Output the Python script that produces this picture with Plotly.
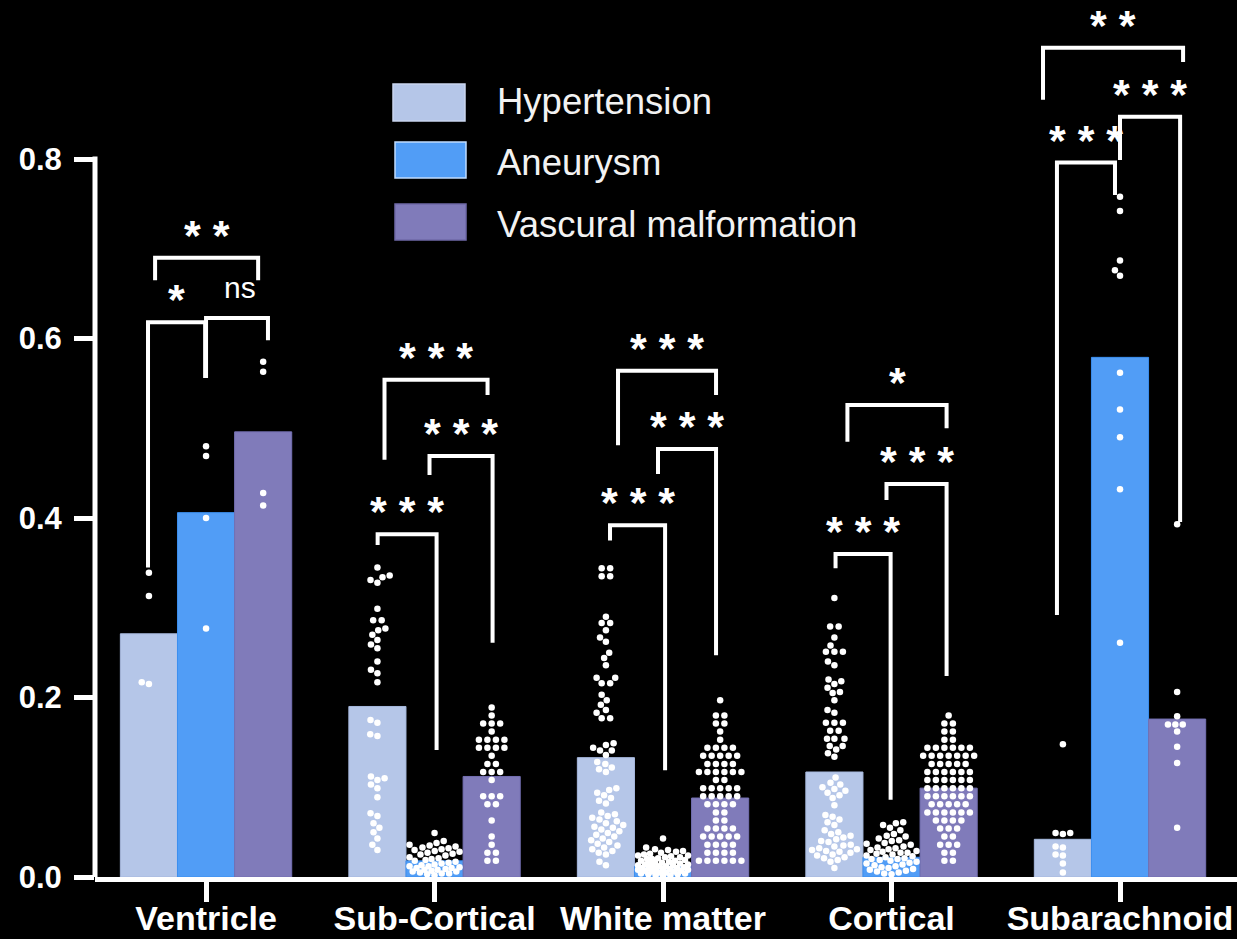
import math
import plotly.graph_objects as go

# ---------------- data ----------------
categories = ["Ventricle", "Sub-Cortical", "White matter", "Cortical", "Subarachnoid"]
groups = ["Hypertension", "Aneurysm", "Vascural malformation"]

bar_hypertension = [0.271, 0.190, 0.133, 0.117, 0.042]
bar_aneurysm = [0.406, 0.018, 0.012, 0.022, 0.579]
bar_vascular = [0.496, 0.112, 0.088, 0.099, 0.176]

y_tick_vals = [0.0, 0.2, 0.4, 0.6, 0.8]
y_tick_text = ["0.0", "0.2", "0.4", "0.6", "0.8"]

# individual points
ventricle_hyp = [0.215, 0.217, 0.313, 0.339]
ventricle_ane = [0.277, 0.400, 0.469, 0.480]
ventricle_vas = [0.414, 0.428, 0.563, 0.574]

subcortical_hyp = [0.345, 0.336, 0.334, 0.331, 0.328, 0.299, 0.286, 0.286,
                   0.277, 0.275, 0.270, 0.264, 0.259, 0.255, 0.240, 0.231,
                   0.227, 0.217, 0.175, 0.172, 0.159, 0.157, 0.112, 0.110,
                   0.108, 0.103, 0.099, 0.089, 0.071, 0.068, 0.060, 0.055,
                   0.050, 0.043, 0.036, 0.030]
subcortical_ane = [0.049, 0.040, 0.038, 0.036, 0.035, 0.034, 0.033, 0.032,
                   0.031, 0.030, 0.029, 0.028, 0.027, 0.026, 0.025, 0.024,
                   0.022, 0.021, 0.020, 0.019, 0.018, 0.017, 0.016, 0.015,
                   0.014, 0.013, 0.012, 0.012, 0.011, 0.010, 0.010, 0.009,
                   0.008, 0.008, 0.007, 0.006, 0.006, 0.005, 0.004, 0.004,
                   0.003, 0.002]
subcortical_vas = [0.189, 0.180, 0.171, 0.171, 0.171, 0.162, 0.153, 0.153,
                   0.153, 0.153, 0.144, 0.144, 0.144, 0.144, 0.135, 0.126,
                   0.126, 0.117, 0.117, 0.117, 0.108, 0.090, 0.090, 0.090,
                   0.081, 0.081, 0.063, 0.045, 0.036, 0.027, 0.027, 0.018,
                   0.018]

white_hyp = [0.344, 0.344, 0.335, 0.335, 0.290, 0.283, 0.283, 0.275, 0.267,
             0.262, 0.250, 0.244, 0.236, 0.222, 0.222, 0.216, 0.216, 0.203,
             0.197, 0.192, 0.186, 0.183, 0.177, 0.177, 0.149, 0.147, 0.144,
             0.141, 0.141, 0.136, 0.128, 0.126, 0.122, 0.120, 0.117, 0.099,
             0.097, 0.094, 0.091, 0.088, 0.085, 0.082, 0.072, 0.070, 0.068,
             0.066, 0.064, 0.062, 0.060, 0.058, 0.056, 0.055, 0.053, 0.051,
             0.049, 0.047, 0.045, 0.043, 0.041, 0.039, 0.037, 0.035, 0.033,
             0.031, 0.029, 0.027, 0.025, 0.017, 0.013]
white_ane = [0.043, 0.033, 0.031, 0.030, 0.029, 0.028, 0.027, 0.026, 0.025,
             0.024, 0.024, 0.023, 0.022, 0.022, 0.021, 0.020, 0.020, 0.019,
             0.018, 0.018, 0.017, 0.016, 0.016, 0.015, 0.015, 0.014, 0.014,
             0.013, 0.013, 0.012, 0.012, 0.011, 0.011, 0.010, 0.010, 0.010,
             0.009, 0.009, 0.008, 0.008, 0.008, 0.007, 0.007, 0.006, 0.006,
             0.005, 0.005, 0.004, 0.004, 0.003, 0.003, 0.002, 0.002, 0.001]
white_vas = [0.197, 0.180, 0.180, 0.171, 0.171, 0.162, 0.153, 0.144, 0.144,
             0.144, 0.144, 0.135, 0.135, 0.135, 0.135, 0.135, 0.126, 0.126,
             0.126, 0.126, 0.117, 0.117, 0.117, 0.117, 0.117, 0.117, 0.108,
             0.108, 0.099, 0.099, 0.099, 0.099, 0.099, 0.090, 0.090, 0.090,
             0.090, 0.090, 0.081, 0.081, 0.081, 0.081, 0.072, 0.072, 0.063,
             0.063, 0.054, 0.054, 0.054, 0.054, 0.045, 0.045, 0.045, 0.045,
             0.045, 0.036, 0.036, 0.036, 0.036, 0.027, 0.027, 0.027, 0.027,
             0.018, 0.018, 0.018, 0.018, 0.018, 0.018]

cortical_hyp = [0.311, 0.279, 0.279, 0.267, 0.258, 0.251, 0.251, 0.251, 0.240,
                0.236, 0.220, 0.218, 0.215, 0.211, 0.206, 0.205, 0.197, 0.186,
                0.183, 0.172, 0.172, 0.172, 0.163, 0.163, 0.154, 0.154, 0.154,
                0.146, 0.146, 0.142, 0.138, 0.134, 0.111, 0.105, 0.103, 0.100,
                0.098, 0.096, 0.094, 0.091, 0.088, 0.080, 0.069, 0.067, 0.064,
                0.061, 0.058, 0.052, 0.050, 0.048, 0.046, 0.044, 0.042, 0.040,
                0.039, 0.036, 0.035, 0.034, 0.032, 0.031, 0.030, 0.029, 0.028,
                0.027, 0.025, 0.024, 0.022, 0.021, 0.019, 0.017, 0.010]
cortical_ane = [0.061, 0.060, 0.058, 0.055, 0.052, 0.048, 0.046, 0.045, 0.043,
                0.041, 0.040, 0.038, 0.037, 0.036, 0.034, 0.033, 0.032, 0.031,
                0.030, 0.029, 0.028, 0.027, 0.027, 0.026, 0.025, 0.024, 0.023,
                0.022, 0.021, 0.020, 0.020, 0.019, 0.018, 0.017, 0.016, 0.015,
                0.014, 0.013, 0.012, 0.011, 0.010, 0.009, 0.008, 0.007, 0.006,
                0.005, 0.004, 0.003]
cortical_vas = [0.180, 0.171, 0.171, 0.162, 0.162, 0.153, 0.153, 0.144, 0.144,
                0.144, 0.144, 0.144, 0.144, 0.135, 0.135, 0.135, 0.135, 0.135,
                0.135, 0.135, 0.126, 0.126, 0.126, 0.126, 0.126, 0.117, 0.117,
                0.117, 0.117, 0.117, 0.117, 0.108, 0.108, 0.108, 0.108, 0.108,
                0.108, 0.099, 0.099, 0.099, 0.099, 0.099, 0.099, 0.090, 0.090,
                0.090, 0.090, 0.090, 0.090, 0.081, 0.081, 0.081, 0.081, 0.081,
                0.072, 0.072, 0.072, 0.072, 0.072, 0.072, 0.063, 0.063, 0.063,
                0.063, 0.054, 0.054, 0.054, 0.045, 0.045, 0.036, 0.036, 0.036,
                0.027, 0.027, 0.018, 0.018]

subarach_hyp = [0.148, 0.049, 0.049, 0.048, 0.034, 0.033, 0.025, 0.024, 0.015, 0.005]
subarach_ane = [0.758, 0.742, 0.687, 0.676, 0.670, 0.562, 0.521, 0.490, 0.432, 0.261]
subarach_vas = [0.393, 0.206, 0.179, 0.170, 0.170, 0.170, 0.162, 0.145, 0.127, 0.055]

points = [
    [ventricle_hyp, ventricle_ane, ventricle_vas],
    [subcortical_hyp, subcortical_ane, subcortical_vas],
    [white_hyp, white_ane, white_vas],
    [cortical_hyp, cortical_ane, cortical_vas],
    [subarach_hyp, subarach_ane, subarach_vas],
]

# significance brackets: (category, left x offset, right x offset,
#                         left leg end, top, right leg end, label)
brackets = [
    (0, -0.254, -0.004, 0.345, 0.618, 0.556, "*"),
    (0, 0.000, 0.271, 0.556, 0.623, 0.598, ""),
    (0, -0.223, 0.228, 0.665, 0.690, 0.665, "* *"),
    (1, -0.249, 0.009, 0.370, 0.382, 0.1415, "* * *"),
    (1, -0.022, 0.254, 0.448, 0.469, 0.261, "* * *"),
    (1, -0.219, 0.232, 0.465, 0.554, 0.537, "* * *"),
    (2, -0.232, 0.009, 0.375, 0.392, 0.119, "* * *"),
    (2, -0.022, 0.232, 0.449, 0.477, 0.247, "* * *"),
    (2, -0.197, 0.232, 0.481, 0.564, 0.537, "* * *"),
    (3, -0.245, -0.004, 0.344, 0.360, 0.086, "* * *"),
    (3, -0.022, 0.241, 0.420, 0.438, 0.224, "* * *"),
    (3, -0.193, 0.241, 0.485, 0.526, 0.500, "*"),
    (4, -0.276, -0.022, 0.292, 0.796, 0.760, "* * *"),
    (4, 0.000, 0.263, 0.799, 0.847, 0.3955, "* * *"),
    (4, -0.337, 0.276, 0.866, 0.924, 0.908, "* *"),
]
ns_label = (0, 0.149, 0.654, "ns")

# ---------------- layout geometry ----------------
FIG_W, FIG_H = 1237, 939
M_L, M_R, M_T, M_B = 95, 0, 0, 62
XR = (-0.486, 4.512)
YR = (0.0, 0.9772)
PLOT_W = FIG_W - M_L - M_R
PLOT_H = FIG_H - M_T - M_B
XS = PLOT_W / (XR[1] - XR[0])   # px per x unit
YS = PLOT_H / (YR[1] - YR[0])   # px per y unit

offsets = [-0.25, 0.0, 0.25]
bar_colors = ["#B5C6E8", "#519DF6", "#807BBA"]
bar_lines = ["#A7B9DE", "#3C8FF0", "#7470B2"]


def swarm(values, dmin=7.4, step=8.5, maxw=25.0):
    order = sorted(values)
    placed = []
    out = []

    def ok(x, y):
        for (px, py) in placed:
            if (px - x) ** 2 + (py - y) ** 2 < dmin * dmin - 1e-9:
                return False
        return True

    def single(y):
        cands = [0.0]
        for (px, py) in placed:
            dy = abs(py - y)
            if dy < dmin:
                dx = math.sqrt(dmin * dmin - dy * dy)
                cands.append(px + dx)
                cands.append(px - dx)
        cands.sort(key=lambda c: (abs(c), c))
        for c in cands:
            if abs(c) <= maxw + 1e-9 and ok(c, y):
                return c
        best, bestd = 0.0, -1.0
        for j in range(int(2 * maxw) + 1):
            c = -maxw + j
            md = min((px - c) ** 2 + (py - y) ** 2 for (px, py) in placed)
            if md > bestd:
                best, bestd = c, md
        return best

    i = 0
    while i < len(order):
        j = i
        while j < len(order) and abs(order[j] - order[i]) < 1e-9:
            j += 1
        n = j - i
        y = order[i] * YS
        xs = None
        if n > 1:
            row = [(k - (n - 1) / 2) * step for k in range(n)]
            if max(abs(r) for r in row) <= maxw + 1.5 and all(ok(r, y) for r in row):
                xs = row
                for r in row:
                    placed.append((r, y))
        if xs is None:
            xs = []
            for _ in range(n):
                c = single(y)
                placed.append((c, y))
                xs.append(c)
        out.extend(zip(xs, order[i:j]))
        i = j
    return out


fig = go.Figure()

for g, vals in enumerate([bar_hypertension, bar_aneurysm, bar_vascular]):
    fig.add_trace(go.Bar(
        x=list(range(len(categories))), y=vals, name=groups[g],
        marker=dict(color=bar_colors[g], line=dict(color=bar_lines[g], width=1)),
        showlegend=False, hoverinfo="skip"))

dx, dy = [], []
for ci in range(len(categories)):
    for g in range(3):
        for xo, v in swarm(points[ci][g]):
            dx.append(ci + offsets[g] + xo / XS)
            dy.append(v)
fig.add_trace(go.Scatter(x=dx, y=dy, mode="markers",
                         marker=dict(color="white", size=6.5, line=dict(width=0)),
                         showlegend=False, hoverinfo="skip"))

shapes = []
annotations = []
for (ci, x0, x1, yl, yt, yr, lab) in brackets:
    xa, xb = ci + x0, ci + x1
    shapes.append(dict(type="path", xref="x", yref="y",
                       path=f"M {xa} {yl} L {xa} {yt} L {xb} {yt} L {xb} {yr}",
                       line=dict(color="white", width=4)))
    if lab:
        annotations.append(dict(x=(xa + xb) / 2, y=yt + 27 / YS, xref="x", yref="y",
                                text=f"<b>{lab}</b>", showarrow=False,
                                yanchor="middle", yshift=-4,
                                font=dict(family="Liberation Sans", size=43, color="white")))
annotations.append(dict(x=ns_label[0] + ns_label[1], y=ns_label[2], xref="x", yref="y",
                        text=ns_label[3], showarrow=False, yanchor="middle", yshift=3,
                        font=dict(family="Liberation Sans", size=30, color="white")))

# y axis line only up to 0.8
shapes.append(dict(type="line", xref="paper", yref="y", x0=0, x1=0, y0=0, y1=0.8 + 2.5 / YS,
                   line=dict(color="white", width=5)))


def px_x(p):
    return (p - M_L) / PLOT_W


def px_y(p):
    return (FIG_H - M_B - p) / PLOT_H


legend_boxes = [(393, 84, 465, 121), (395, 142, 466, 178), (395, 204, 466, 240)]
legend_text_y = [102, 162, 224]
legend_edge = ["#C9D5EE", "#BFDCFF", "#6F6AA8"]
for g in range(3):
    x0, y0, x1, y1 = legend_boxes[g]
    shapes.append(dict(type="rect", xref="paper", yref="paper",
                       x0=px_x(x0), x1=px_x(x1), y0=px_y(y1), y1=px_y(y0),
                       fillcolor=bar_colors[g], line=dict(color=legend_edge[g], width=1.5)))
    annotations.append(dict(x=px_x(495), y=px_y(legend_text_y[g]), xref="paper", yref="paper",
                            text=groups[g], showarrow=False, xanchor="left", yanchor="middle",
                            font=dict(family="Liberation Sans", size=36.5, color="#F2F2F2")))

fig.update_layout(
    width=FIG_W, height=FIG_H,
    margin=dict(l=M_L, r=M_R, t=M_T, b=M_B),
    paper_bgcolor="black", plot_bgcolor="black",
    barmode="group", bargap=0.25, bargroupgap=0,
    shapes=shapes, annotations=annotations,
    xaxis=dict(range=list(XR), tickvals=list(range(len(categories))), ticktext=categories,
               showline=True, linecolor="white", linewidth=5,
               ticks="outside", ticklen=20, tickwidth=5, tickcolor="white",
               tickfont=dict(family="Liberation Sans", size=34, color="white", weight="bold"),
               ticklabelstandoff=-13,
               showgrid=False, zeroline=False, automargin=False, fixedrange=True),
    yaxis=dict(range=list(YR), tickvals=y_tick_vals, ticktext=y_tick_text,
               showline=False, ticks="outside", ticklen=20, tickwidth=5, tickcolor="white",
               tickfont=dict(family="Liberation Sans", size=31, color="white", weight="bold"),
               ticklabelstandoff=6,
               showgrid=False, zeroline=False, automargin=False, fixedrange=True),
)

fig.write_html("out.html", config={"displayModeBar": False},
               post_script="document.body.style.margin='0';document.body.style.overflow='hidden';")
